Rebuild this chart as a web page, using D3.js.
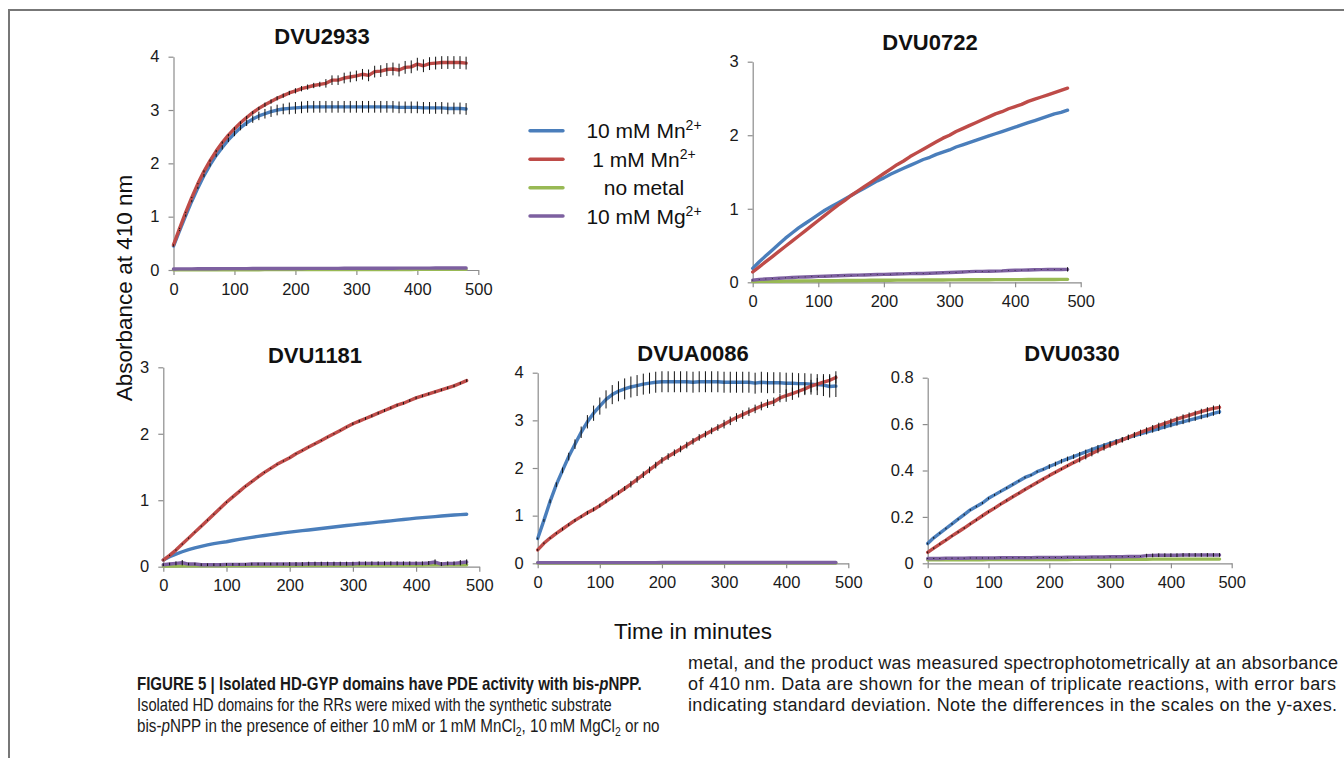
<!DOCTYPE html>
<html>
<head>
<meta charset="utf-8">
<script src="https://cdn.jsdelivr.net/npm/d3@7"></script>
<style>
  body { margin: 0; background: #fff; }
  svg text { font-family: "Liberation Sans", Arial, sans-serif; }
</style>
</head>
<body>
<svg id="fig" width="1344" height="758"></svg>
<script>
// sampling times (minutes)
var minutes = [0,10,20,30,40,50,60,70,80,90,100,110,120,130,140,150,160,170,180,190,200,210,220,230,240,
  250,260,270,280,290,300,310,320,330,340,350,360,370,380,390,400,410,420,430,440,450,460,470,480];

var seriesNames = ["10 mM Mn", "1 mM Mn", "no metal", "10 mM Mg"];
var seriesSup = ["2+", "2+", "", "2+"];
var seriesColors = ["#4a7ebb", "#be4b48", "#98b954", "#7d60a0"];

// ---- DVU2933
var dvu2933Mn10 = [0.45,0.74,1.02,1.29,1.54,1.77,1.97,2.15,2.3,2.44,2.56,2.67,2.76,2.83,2.89,2.93,2.97,3.0,3.02,3.03,
  3.04,3.05,3.06,3.06,3.06,3.06,3.06,3.06,3.06,3.06,3.06,3.06,3.06,3.06,3.06,3.06,3.06,3.05,3.05,3.05,
  3.05,3.04,3.04,3.04,3.04,3.03,3.03,3.03,3.02];
var dvu2933Mn1 = [0.47,0.78,1.08,1.36,1.62,1.85,2.05,2.23,2.39,2.53,2.65,2.76,2.86,2.95,3.03,3.1,3.16,3.22,3.27,3.32,
  3.36,3.4,3.43,3.46,3.48,3.5,3.56,3.56,3.6,3.62,3.64,3.67,3.65,3.72,3.73,3.76,3.77,3.75,3.8,3.81,
  3.86,3.83,3.87,3.88,3.89,3.89,3.89,3.89,3.88];
var dvu2933None = [0.005,0.005,0.005,0.005,0.005,0.005,0.005,0.005,0.006,0.006,0.006,0.006,0.006,0.006,0.006,0.007,0.007,0.007,0.007,0.007,
  0.007,0.008,0.008,0.008,0.008,0.008,0.008,0.009,0.009,0.009,0.009,0.009,0.009,0.01,0.01,0.01,0.01,0.01,0.01,0.01,
  0.011,0.011,0.011,0.011,0.011,0.012,0.012,0.012,0.012];
var dvu2933Mg = [0.02,0.021,0.022,0.022,0.023,0.023,0.024,0.024,0.025,0.025,0.026,0.026,0.026,0.027,0.027,0.027,0.028,0.028,0.028,0.029,
  0.029,0.029,0.03,0.03,0.03,0.031,0.031,0.031,0.032,0.032,0.032,0.033,0.033,0.033,0.034,0.034,0.034,0.035,0.035,0.035,
  0.036,0.036,0.036,0.037,0.037,0.037,0.038,0.038,0.038];
var dvu2933Mn10Sd = [0.01,0.01,0.02,0.02,0.02,0.03,0.03,0.03,0.04,0.04,0.05,0.05,0.06,0.07,0.08,0.09,0.1,0.1,0.1,0.11,
  0.11,0.11,0.11,0.11,0.11,0.11,0.11,0.11,0.11,0.11,0.11,0.11,0.11,0.11,0.11,0.11,0.11,0.11,0.11,0.11,
  0.11,0.11,0.11,0.11,0.11,0.11,0.11,0.11,0.11];
var dvu2933Mn1Sd = [0.01,0.01,0.01,0.01,0.01,0.02,0.02,0.02,0.02,0.02,0.03,0.03,0.03,0.03,0.03,0.04,0.04,0.04,0.04,0.04,
  0.05,0.05,0.05,0.05,0.05,0.08,0.09,0.09,0.1,0.1,0.1,0.1,0.11,0.11,0.11,0.12,0.12,0.12,0.12,0.12,
  0.12,0.12,0.12,0.12,0.12,0.12,0.12,0.12,0.12];

// ---- DVU0722
var dvu0722Mn10 = [0.19,0.28,0.36,0.44,0.52,0.6,0.67,0.74,0.8,0.86,0.92,0.98,1.03,1.08,1.13,1.18,1.23,1.28,1.33,1.38,
  1.42,1.47,1.51,1.55,1.59,1.63,1.67,1.7,1.74,1.77,1.8,1.84,1.87,1.9,1.93,1.96,1.99,2.02,2.05,2.08,
  2.11,2.14,2.17,2.2,2.23,2.26,2.29,2.31,2.34];
var dvu0722Mn1 = [0.14,0.21,0.28,0.35,0.42,0.49,0.56,0.63,0.7,0.77,0.84,0.91,0.98,1.05,1.11,1.18,1.24,1.3,1.36,1.42,
  1.48,1.54,1.6,1.65,1.71,1.76,1.81,1.86,1.91,1.96,2.0,2.05,2.09,2.13,2.17,2.21,2.25,2.29,2.32,2.36,
  2.39,2.42,2.46,2.49,2.52,2.55,2.58,2.61,2.64];
var dvu0722None = [0.01,0.012,0.013,0.014,0.015,0.016,0.017,0.018,0.019,0.02,0.021,0.022,0.022,0.023,0.024,0.025,0.025,0.026,0.027,0.027,
  0.028,0.028,0.029,0.029,0.03,0.03,0.031,0.031,0.032,0.032,0.033,0.033,0.034,0.034,0.034,0.035,0.035,0.036,0.036,0.036,
  0.037,0.037,0.038,0.038,0.038,0.039,0.039,0.04,0.04];
var dvu0722Mg = [0.03,0.04,0.045,0.05,0.055,0.06,0.065,0.07,0.073,0.076,0.08,0.083,0.086,0.089,0.092,0.095,0.098,0.1,0.103,0.106,
  0.108,0.11,0.113,0.115,0.118,0.12,0.12,0.123,0.127,0.13,0.133,0.136,0.14,0.145,0.148,0.148,0.15,0.152,0.155,0.16,
  0.163,0.166,0.168,0.17,0.172,0.175,0.174,0.175,0.176];
var dvu0722MgSd = [0.004,0.004,0.004,0.004,0.004,0.004,0.004,0.004,0.004,0.004,0.004,0.004,0.004,0.004,0.004,0.004,0.004,0.004,0.004,0.004,
  0.004,0.004,0.004,0.004,0.004,0.004,0.004,0.004,0.004,0.004,0.004,0.004,0.004,0.004,0.004,0.004,0.004,0.004,0.004,0.004,
  0.004,0.004,0.004,0.004,0.004,0.004,0.004,0.004,0.03];

// ---- DVU1181
var dvu1181Mn10 = [0.1,0.15,0.19,0.225,0.256,0.283,0.307,0.328,0.347,0.362,0.376,
  0.394,0.411,0.427,0.442,0.456,0.47,0.483,0.496,0.508,0.52,
  0.531,0.542,0.553,0.564,0.575,0.586,0.597,0.608,0.619,0.63,
  0.64,0.65,0.66,0.67,0.68,0.69,0.7,0.71,0.72,0.73,
  0.738,0.746,0.754,0.762,0.77,0.777,0.784,0.79];
var dvu1181Mn1 = [0.1,0.17,0.25,0.34,0.43,0.52,0.61,0.7,0.79,0.88,0.97,1.05,1.13,1.21,1.28,1.35,1.42,1.48,1.54,1.59,
  1.64,1.7,1.75,1.8,1.85,1.9,1.95,2.0,2.05,2.1,2.15,2.19,2.23,2.27,2.31,2.35,2.39,2.43,2.46,2.5,
  2.54,2.57,2.6,2.63,2.66,2.69,2.72,2.76,2.8];
var dvu1181None = [0.01,0.01,0.01,0.012,0.012,0.013,0.013,0.014,0.014,0.015,0.015,0.016,0.016,0.016,0.017,0.017,0.018,0.018,0.018,0.019,
  0.019,0.02,0.02,0.02,0.021,0.021,0.021,0.022,0.022,0.022,0.023,0.023,0.023,0.024,0.024,0.024,0.025,0.025,0.025,0.026,
  0.026,0.026,0.027,0.027,0.027,0.028,0.028,0.028,0.03];
var dvu1181Mg = [0.03,0.04,0.05,0.06,0.04,0.04,0.03,0.03,0.03,0.03,0.035,0.035,0.035,0.035,0.04,0.04,0.04,0.04,0.04,0.04,
  0.04,0.04,0.04,0.045,0.045,0.045,0.045,0.045,0.045,0.045,0.045,0.05,0.05,0.05,0.05,0.05,0.05,0.05,0.05,0.05,
  0.05,0.05,0.055,0.07,0.04,0.05,0.05,0.06,0.07];
var dvu1181Mn1Sd = [0.01,0.01,0.01,0.01,0.01,0.01,0.01,0.01,0.01,0.01,0.01,0.01,0.01,0.01,0.01,0.01,0.01,0.01,0.01,0.01,
  0.01,0.01,0.01,0.01,0.01,0.01,0.01,0.01,0.01,0.01,0.02,0.02,0.02,0.02,0.02,0.02,0.02,0.02,0.02,0.02,
  0.02,0.02,0.02,0.02,0.02,0.02,0.02,0.02,0.02];
var dvu1181MgSd = [0.02,0.02,0.03,0.04,0.02,0.02,0.02,0.02,0.02,0.02,0.02,0.02,0.02,0.02,0.02,0.02,0.02,0.02,0.02,0.02,
  0.03,0.03,0.03,0.03,0.03,0.03,0.03,0.03,0.03,0.03,0.03,0.03,0.03,0.03,0.03,0.03,0.03,0.03,0.03,0.03,
  0.03,0.03,0.03,0.04,0.03,0.03,0.03,0.04,0.04];

// ---- DVUA0086
var dvua0086Mn10 = [0.52,0.9,1.3,1.65,1.95,2.24,2.5,2.75,2.97,3.15,3.3,3.44,3.54,3.61,3.66,3.7,3.73,3.76,3.78,3.8,
  3.81,3.81,3.81,3.81,3.81,3.8,3.81,3.81,3.81,3.81,3.8,3.8,3.8,3.8,3.8,3.78,3.8,3.79,3.79,3.79,
  3.78,3.78,3.77,3.77,3.76,3.75,3.74,3.71,3.72];
var dvua0086Mn1 = [0.28,0.42,0.53,0.63,0.72,0.81,0.9,0.98,1.06,1.13,1.21,1.3,1.39,1.48,1.57,1.66,1.76,1.86,1.96,2.06,
  2.16,2.24,2.32,2.4,2.48,2.56,2.64,2.71,2.78,2.85,2.92,2.99,3.06,3.12,3.18,3.24,3.3,3.35,3.39,3.47,
  3.52,3.56,3.61,3.66,3.72,3.76,3.8,3.84,3.9];
var dvua0086None = [0.005,0.005,0.005,0.005,0.005,0.005,0.005,0.005,0.005,0.005,0.005,0.005,0.005,0.005,0.005,0.005,0.005,0.005,0.005,0.005,
  0.006,0.006,0.006,0.006,0.006,0.006,0.006,0.006,0.006,0.006,0.006,0.006,0.006,0.006,0.006,0.007,0.007,0.007,0.007,0.007,
  0.007,0.007,0.007,0.007,0.007,0.007,0.007,0.007,0.007];
var dvua0086Mg = [0.015,0.015,0.015,0.015,0.015,0.015,0.015,0.015,0.015,0.015,0.015,0.015,0.015,0.015,0.015,0.015,0.015,0.015,0.015,0.015,
  0.016,0.016,0.016,0.016,0.016,0.016,0.016,0.016,0.016,0.016,0.016,0.016,0.016,0.016,0.016,0.017,0.017,0.017,0.017,0.017,
  0.017,0.017,0.017,0.017,0.017,0.017,0.017,0.017,0.017];
var dvua0086Mn10Sd = [0.02,0.03,0.04,0.05,0.06,0.08,0.1,0.12,0.14,0.16,0.18,0.19,0.2,0.21,0.22,0.22,0.22,0.22,0.22,0.22,
  0.22,0.22,0.22,0.22,0.22,0.22,0.22,0.22,0.22,0.22,0.22,0.22,0.22,0.22,0.22,0.22,0.22,0.22,0.22,0.22,
  0.22,0.22,0.22,0.22,0.22,0.22,0.23,0.23,0.23];
var dvua0086Mn1Sd = [0.02,0.02,0.02,0.02,0.03,0.03,0.03,0.03,0.04,0.04,0.04,0.04,0.05,0.05,0.05,0.07,0.07,0.07,0.07,0.07,
  0.07,0.07,0.07,0.07,0.07,0.07,0.07,0.07,0.07,0.07,0.09,0.09,0.09,0.09,0.09,0.09,0.09,0.09,0.09,0.09,
  0.13,0.13,0.13,0.13,0.13,0.13,0.13,0.13,0.13];

// ---- DVU0330
var dvu0330Mn10 = [0.085,0.11,0.13,0.15,0.17,0.19,0.21,0.23,0.245,0.26,0.28,0.295,0.31,0.325,0.34,0.355,0.37,0.38,0.395,0.405,
  0.417,0.428,0.44,0.45,0.46,0.47,0.48,0.49,0.5,0.508,0.517,0.525,0.533,0.542,0.55,0.558,0.565,0.573,0.58,0.588,
  0.596,0.603,0.61,0.617,0.624,0.631,0.638,0.646,0.653];
var dvu0330Mn1 = [0.047,0.065,0.083,0.1,0.118,0.135,0.152,0.17,0.187,0.205,0.222,0.238,0.255,0.271,0.287,0.302,0.318,0.333,0.348,0.363,
  0.378,0.392,0.406,0.42,0.434,0.447,0.46,0.473,0.486,0.498,0.51,0.521,0.532,0.543,0.554,0.564,0.574,0.584,0.594,0.603,
  0.612,0.621,0.63,0.638,0.646,0.654,0.661,0.668,0.672];
var dvu0330None = [0.015,0.015,0.015,0.015,0.015,0.015,0.015,0.015,0.015,0.015,0.016,0.016,0.016,0.016,0.016,0.016,0.016,0.016,0.016,0.016,
  0.016,0.016,0.016,0.016,0.017,0.017,0.017,0.017,0.017,0.017,0.017,0.017,0.017,0.017,0.017,0.017,0.017,0.018,0.018,0.018,
  0.018,0.018,0.018,0.018,0.018,0.018,0.018,0.018,0.018];
var dvu0330Mg = [0.021,0.021,0.021,0.022,0.022,0.022,0.022,0.023,0.023,0.023,0.023,0.023,0.024,0.024,0.024,0.024,0.024,0.024,0.025,0.025,
  0.025,0.025,0.025,0.026,0.026,0.026,0.026,0.027,0.027,0.027,0.028,0.028,0.028,0.029,0.029,0.03,0.033,0.034,0.035,0.035,
  0.035,0.035,0.036,0.036,0.036,0.036,0.036,0.036,0.036];
var dvu0330Mn10Sd = [0.004,0.004,0.004,0.004,0.004,0.004,0.004,0.004,0.004,0.004,0.004,0.004,0.004,0.004,0.004,0.004,0.004,0.004,0.004,0.004,
  0.01,0.01,0.01,0.01,0.01,0.01,0.01,0.01,0.01,0.01,0.01,0.01,0.01,0.01,0.01,0.01,0.01,0.01,0.01,0.01,
  0.01,0.01,0.01,0.01,0.01,0.01,0.01,0.01,0.01];
var dvu0330Mn1Sd = [0.004,0.004,0.004,0.004,0.004,0.004,0.004,0.004,0.004,0.004,0.004,0.004,0.004,0.004,0.004,0.004,0.004,0.004,0.004,0.004,
  0.004,0.004,0.004,0.004,0.004,0.012,0.012,0.012,0.012,0.012,0.012,0.012,0.012,0.012,0.012,0.012,0.012,0.012,0.012,0.012,
  0.012,0.012,0.012,0.012,0.012,0.012,0.012,0.012,0.012];
var dvu0330MgSd = [0.002,0.002,0.002,0.002,0.002,0.002,0.002,0.002,0.002,0.002,0.002,0.002,0.002,0.002,0.002,0.002,0.002,0.002,0.002,0.002,
  0.002,0.002,0.002,0.002,0.002,0.002,0.002,0.002,0.002,0.002,0.002,0.002,0.002,0.002,0.002,0.002,0.008,0.008,0.008,0.008,
  0.008,0.008,0.008,0.008,0.008,0.008,0.008,0.008,0.008];

var xTicks = [0,100,200,300,400,500];

// layout: plot box [left, right, bottom, top] and title position
var panels = [
  {title: "DVU2933", yMax: 4, yTicks: [0,1,2,3,4], box: [173.5, 478.3, 270, 56.7], tx: 322, ty: 44,
   values: [dvu2933Mn10, dvu2933Mn1, dvu2933None, dvu2933Mg], sd: [dvu2933Mn10Sd, dvu2933Mn1Sd, null, null]},
  {title: "DVU0722", yMax: 3, yTicks: [0,1,2,3], box: [752.7, 1080.7, 282.3, 61.7], tx: 930, ty: 49.5,
   values: [dvu0722Mn10, dvu0722Mn1, dvu0722None, dvu0722Mg], sd: [null, null, null, dvu0722MgSd]},
  {title: "DVU1181", yMax: 3, yTicks: [0,1,2,3], box: [163.3, 479.3, 566.7, 367.3], tx: 315, ty: 363,
   values: [dvu1181Mn10, dvu1181Mn1, dvu1181None, dvu1181Mg], sd: [null, dvu1181Mn1Sd, null, dvu1181MgSd]},
  {title: "DVUA0086", yMax: 4, yTicks: [0,1,2,3,4], box: [537.7, 848.3, 563.3, 372.7], tx: 693, ty: 361,
   values: [dvua0086Mn10, dvua0086Mn1, dvua0086None, dvua0086Mg], sd: [dvua0086Mn10Sd, dvua0086Mn1Sd, null, null]},
  {title: "DVU0330", yMax: 0.8, yTicks: [0,0.2,0.4,0.6,0.8], box: [927.7, 1231.7, 563.3, 377.7], tx: 1072, ty: 361,
   values: [dvu0330Mn10, dvu0330Mn1, dvu0330None, dvu0330Mg], sd: [dvu0330Mn10Sd, dvu0330Mn1Sd, null, dvu0330MgSd]}
];

var svg = d3.select("#fig");

// figure frame (top and left rule)
svg.append("path")
  .attr("d", "M9,758V10H1344")
  .attr("fill", "none")
  .attr("stroke", "#777")
  .attr("stroke-width", 2);

panels.forEach(function(p) {
  var x = d3.scaleLinear().domain([0, 500]).range([p.box[0], p.box[1]]);
  var y = d3.scaleLinear().domain([0, p.yMax]).range([p.box[2], p.box[3]]);
  var g = svg.append("g");

  var yAxis = g.append("g")
    .attr("transform", "translate(" + p.box[0] + ",0)")
    .call(d3.axisLeft(y).tickValues(p.yTicks).tickSize(5).tickSizeOuter(0).tickPadding(9)
      .tickFormat(function(d) { return String(d); }));
  var xAxis = g.append("g")
    .attr("transform", "translate(0," + p.box[2] + ")")
    .call(d3.axisBottom(x).tickValues(xTicks).tickSize(5).tickSizeOuter(0).tickPadding(8));

  [yAxis, xAxis].forEach(function(a) {
    a.selectAll("path, line").attr("stroke", "#8c8c8c").attr("stroke-width", 1.2);
    a.selectAll("text").attr("fill", "#1a1a1a").style("font-size", "16.5px")
      .style("font-family", "'Liberation Sans', Arial, sans-serif");
  });

  var line = d3.line()
    .x(function(d, i) { return x(minutes[i]); })
    .y(function(d) { return y(d); });

  p.values.forEach(function(vals, k) {
    g.append("path")
      .datum(vals)
      .attr("d", line)
      .attr("fill", "none")
      .attr("stroke", seriesColors[k])
      .attr("stroke-width", 3.4)
      .attr("stroke-linejoin", "round")
      .attr("stroke-linecap", "round");
  });

  // error bars on top of the lines
  p.values.forEach(function(vals, k) {
    var sd = p.sd[k];
    if (!sd) return;
    g.append("g").selectAll("line")
      .data(vals)
      .join("line")
      .attr("x1", function(d, i) { return x(minutes[i]); })
      .attr("x2", function(d, i) { return x(minutes[i]); })
      .attr("y1", function(d, i) { return y(d - sd[i]); })
      .attr("y2", function(d, i) { return y(d + sd[i]); })
      .attr("stroke", "#111")
      .attr("stroke-width", 1);
  });

  g.append("text")
    .attr("x", p.tx)
    .attr("y", p.ty)
    .attr("text-anchor", "middle")
    .style("font-size", "22px")
    .style("font-weight", "bold")
    .attr("fill", "#111")
    .text(p.title);
});

// legend
var legendY = [130.7, 159.3, 187.7, 216];
var legend = svg.append("g");
seriesNames.forEach(function(name, k) {
  legend.append("line")
    .attr("x1", 530).attr("x2", 563)
    .attr("y1", legendY[k]).attr("y2", legendY[k])
    .attr("stroke", seriesColors[k])
    .attr("stroke-width", 3.4)
    .attr("stroke-linecap", "round");
  var t = legend.append("text")
    .attr("x", 644)
    .attr("y", legendY[k] + 7.5)
    .attr("text-anchor", "middle")
    .style("font-size", "21px")
    .attr("fill", "#111");
  t.append("tspan").text(name);
  if (seriesSup[k]) {
    t.append("tspan").attr("dy", -8).style("font-size", "14px").text(seriesSup[k]);
  }
});

// axis titles
svg.append("text")
  .attr("transform", "translate(132,288) rotate(-90)")
  .attr("text-anchor", "middle")
  .style("font-size", "22.5px")
  .attr("fill", "#111")
  .text("Absorbance at 410 nm");

svg.append("text")
  .attr("x", 693)
  .attr("y", 639)
  .attr("text-anchor", "middle")
  .style("font-size", "22.5px")
  .attr("fill", "#111")
  .text("Time in minutes");

// caption: left column ragged (narrow type, squeezed to width), right column justified
var cap = svg.append("g").attr("fill", "#1a1a1a");

function squeeze(t, x, y, width) {
  var natural = t.node().getComputedTextLength();
  t.attr("transform", "translate(" + x + "," + y + ") scale(" + (width / natural) + ",1)");
}

var c1 = cap.append("text").style("font-size", "17.5px").style("font-weight", "bold");
c1.append("tspan").text("FIGURE 5 | Isolated HD-GYP domains have PDE activity with bis-");
c1.append("tspan").style("font-style", "italic").text("p");
c1.append("tspan").text("NPP.");
squeeze(c1, 137, 690, 505);

var c2 = cap.append("text").style("font-size", "17.5px")
  .text("Isolated HD domains for the RRs were mixed with the synthetic substrate");
squeeze(c2, 137, 711, 475);

var c3 = cap.append("text").style("font-size", "17.5px");
c3.append("tspan").text("bis-");
c3.append("tspan").style("font-style", "italic").text("p");
c3.append("tspan").text("NPP in the presence of either 10\u2009mM or 1\u2009mM MnCl");
c3.append("tspan").attr("dy", 4).style("font-size", "12px").text("2");
c3.append("tspan").attr("dy", -4).text(", 10\u2009mM MgCl");
c3.append("tspan").attr("dy", 4).style("font-size", "12px").text("2");
c3.append("tspan").attr("dy", -4).text(" or no");
squeeze(c3, 137, 732, 523);

var rightLines = [
  "metal, and the product was measured spectrophotometrically at an absorbance",
  "of 410\u2009nm. Data are shown for the mean of triplicate reactions, with error bars",
  "indicating standard deviation. Note the differences in the scales on the y-axes."
];
var rightWidths = [650, 648, 649];
rightLines.forEach(function(s, i) {
  cap.append("text")
    .attr("x", 688)
    .attr("y", 669 + i * 21)
    .style("font-size", "18px")
    .attr("textLength", rightWidths[i])
    .attr("lengthAdjust", "spacing")
    .text(s);
});
</script>
</body>
</html>
